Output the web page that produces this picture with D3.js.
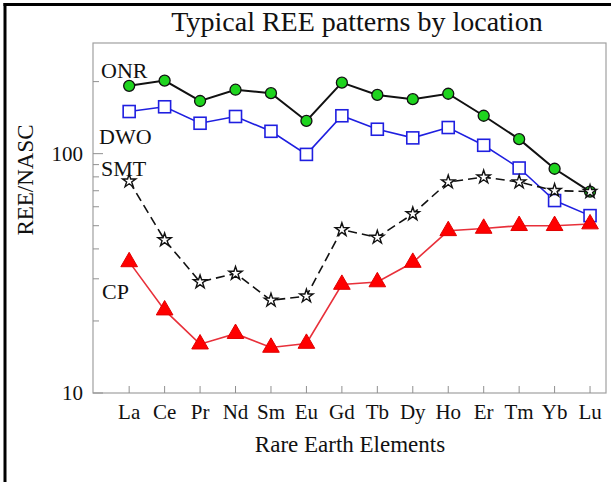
<!DOCTYPE html>
<html><head><meta charset="utf-8">
<script src="https://cdn.jsdelivr.net/npm/d3@7"></script>
<style>html,body{margin:0;padding:0;background:#fff;}svg{display:block;}</style>
</head><body>
<svg id="chart" width="611" height="482"></svg>
<script>
const elements = ["La","Ce","Pr","Nd","Sm","Eu","Gd","Tb","Dy","Ho","Er","Tm","Yb","Lu"];
const onr = [192, 202, 166, 185, 179, 137, 198, 176, 169, 178, 144, 115, 86.5, 69.4];
const dwo = [150, 157, 134, 143, 124, 99.3, 144, 126.5, 116.4, 128.6, 108.4, 87.1, 63.7, 55.1];
const smt = [76.8, 43.6, 29.1, 31.6, 24.4, 25.4, 48.1, 44.7, 56.0, 76.1, 79.8, 76.1, 70.1, 69.4];
const cp  = [35.3, 22.2, 16.0, 17.7, 15.5, 16.1, 28.4, 29.1, 35.1, 47.6, 48.7, 50.0, 50.0, 50.8];
const yTickLabels = [10, 100];
const seriesNames = ["ONR","DWO","SMT","CP"];

const svg = d3.select("#chart");
const font = "'Liberation Serif','Times New Roman',serif";
const L = 93, R = 606, T = 43, B = 393;

const x = d3.scaleLinear().domain([-1.02, 13.45]).range([L, R]);
const y = d3.scaleLog().domain([10, 290]).range([B, T]);

// outer border (left + top)
svg.append("line").attr("x1",5).attr("x2",5).attr("y1",3).attr("y2",482).attr("stroke","#000").attr("stroke-width",3);
svg.append("line").attr("x1",3.5).attr("x2",611).attr("y1",4.5).attr("y2",4.5).attr("stroke","#000").attr("stroke-width",3);

// title
svg.append("text").attr("x",357).attr("y",31).attr("text-anchor","middle")
  .attr("font-family",font).attr("font-size",28).attr("fill","#111").text("Typical REE patterns by location");

// frame
svg.append("rect").attr("x",L).attr("y",T).attr("width",R-L).attr("height",B-T)
  .attr("fill","none").attr("stroke","#a0a0a0").attr("stroke-width",1.2);

// y ticks (inward)
const minor = [];
for (let d of [10,100]) for (let k=2;k<=9;k++) if (d*k<290) minor.push(d*k);
svg.append("g").selectAll("line").data(minor).join("line")
  .attr("x1",L).attr("x2",L+6).attr("y1",d=>y(d)).attr("y2",d=>y(d))
  .attr("stroke","#909090").attr("stroke-width",1);
svg.append("g").selectAll("line").data(yTickLabels).join("line")
  .attr("x1",L).attr("x2",L+10).attr("y1",d=>y(d)).attr("y2",d=>y(d))
  .attr("stroke","#909090").attr("stroke-width",1);
svg.append("g").selectAll("text").data(yTickLabels).join("text")
  .attr("x",83).attr("y",d=>y(d)+7).attr("text-anchor","end")
  .attr("font-family",font).attr("font-size",21).attr("fill","#111").text(d=>d);

// x ticks (inward)
svg.append("g").selectAll("line").data(elements).join("line")
  .attr("x1",(d,i)=>x(i)).attr("x2",(d,i)=>x(i)).attr("y1",B).attr("y2",B-7)
  .attr("stroke","#909090").attr("stroke-width",1);
svg.append("g").selectAll("text").data(elements).join("text")
  .attr("x",(d,i)=>x(i)).attr("y",419).attr("text-anchor","middle")
  .attr("font-family",font).attr("font-size",21).attr("fill","#111").text(d=>d);

// axis titles
svg.append("text").attr("x",350).attr("y",452).attr("text-anchor","middle")
  .attr("font-family",font).attr("font-size",23).attr("fill","#111").text("Rare Earth Elements");
svg.append("text").attr("transform","translate(33,180) rotate(-90)").attr("text-anchor","middle")
  .attr("font-family",font).attr("font-size",23).attr("fill","#111").text("REE/NASC");

const line = d3.line().x((d,i)=>x(i)).y(d=>y(d));

// DWO
svg.append("path").datum(dwo).attr("d",line).attr("fill","none").attr("stroke","#1f1fe0").attr("stroke-width",1.6);
svg.append("g").selectAll("rect").data(dwo).join("rect")
  .attr("x",(d,i)=>x(i)-6).attr("y",d=>y(d)-6).attr("width",12).attr("height",12)
  .attr("fill","#fff").attr("stroke","#1f1fe0").attr("stroke-width",1.6);

// ONR
svg.append("path").datum(onr).attr("d",line).attr("fill","none").attr("stroke","#111").attr("stroke-width",2);
svg.append("g").selectAll("circle").data(onr).join("circle")
  .attr("cx",(d,i)=>x(i)).attr("cy",d=>y(d)).attr("r",5.5)
  .attr("fill","#1ed41e").attr("stroke","#111").attr("stroke-width",1.3);

// SMT
svg.append("path").datum(smt).attr("d",line).attr("fill","none").attr("stroke","#111").attr("stroke-width",1.6).attr("stroke-dasharray","9,5");
const star = d3.symbol().type(d3.symbolStar).size(55);
svg.append("g").selectAll("path").data(smt).join("path")
  .attr("transform",(d,i)=>`translate(${x(i)},${y(d)})`).attr("d",star)
  .attr("fill","#fff").attr("stroke","#111").attr("stroke-width",1.4);

// CP
svg.append("path").datum(cp).attr("d",line).attr("fill","none").attr("stroke","#e8303a").attr("stroke-width",1.6);
const tri = d3.symbol().type(d3.symbolTriangle).size(120);
svg.append("g").selectAll("path").data(cp).join("path")
  .attr("transform",(d,i)=>`translate(${x(i)},${y(d)})`).attr("d",tri)
  .attr("fill","#ff0000").attr("stroke","#e00000").attr("stroke-width",1);

// series labels
const labelPos = [[101,78],[99,144],[101,176],[102,299]];
svg.append("g").selectAll("text").data(seriesNames).join("text")
  .attr("x",(d,i)=>labelPos[i][0]).attr("y",(d,i)=>labelPos[i][1])
  .attr("font-family",font).attr("font-size",22).attr("fill","#111").text(d=>d);
</script>
</body></html>
